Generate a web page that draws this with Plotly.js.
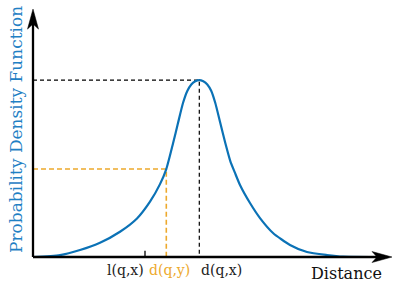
<!DOCTYPE html>
<html>
<head>
<meta charset="utf-8">
<script src="https://cdn.plot.ly/plotly-3.0.1.min.js"></script>
<style>html,body{margin:0;padding:0;background:#fff;}#chart{width:408px;height:291px;}</style>
</head>
<body>
<div id="chart"></div>
<script>
// Curve samples (distance, density)
var distance = [0, 2.7, 4.7, 6.7, 8.7, 10.4, 11.7, 12.7, 13.33, 14.0, 14.5, 15.0, 15.43, 15.83, 16.23, 16.63, 17.03, 17.43, 17.83, 18.23, 18.73, 19.23, 19.73, 20.2, 20.7, 21.7, 22.7, 24.0, 25.7, 27.4, 29.4, 31.0, 33.7];
var density  = [0, 0.011, 0.040, 0.081, 0.143, 0.218, 0.313, 0.412, 0.497, 0.641, 0.757, 0.870, 0.938, 0.975, 0.993, 1.0, 0.993, 0.975, 0.938, 0.870, 0.757, 0.644, 0.542, 0.475, 0.407, 0.305, 0.220, 0.136, 0.068, 0.028, 0.011, 0.002, 0];

// Marked points
var dqxX = 16.63, dqxY = 1.0;     // d(q,x): peak
var dqyX = 13.33, dqyY = 0.497;   // d(q,y)
var lqxX = 11.2;                  // l(q,x)
var tickLabels = ['l(q,x)', 'd(q,y)', 'd(q,x)'];
var xAxisEnd = 35.9, yAxisEnd = 1.401;

var blue = '#0b72b6', orange = '#eda92d', black = '#000';
var serif = 'DejaVu Serif, serif';

var traces = [
  {x: [0, dqxX, dqxX], y: [dqxY, dqxY, 0], mode: 'lines', line: {color: black, width: 1.2, dash: '4px,3px'}, hoverinfo: 'skip'},
  {x: [0, dqyX, dqyX], y: [dqyY, dqyY, 0], mode: 'lines', line: {color: orange, width: 1.6, dash: '5px,3px'}, hoverinfo: 'skip'},
  {x: [lqxX, lqxX], y: [0, 0.035], mode: 'lines', line: {color: black, width: 1.3}, hoverinfo: 'skip'},
  {x: distance, y: density, mode: 'lines', line: {color: blue, width: 2.2, shape: 'spline', smoothing: 0.6}, hoverinfo: 'skip'}
];

var shapes = [
  // axis lines
  {type: 'line', xref: 'x', yref: 'y', x0: 0, y0: 0, x1: xAxisEnd - 1.4, y1: 0, line: {color: black, width: 2.3}},
  {type: 'line', xref: 'x', yref: 'y', x0: 0, y0: 0, x1: 0, y1: yAxisEnd - 0.08, line: {color: black, width: 2.3}},
  // stealth arrowheads (pixel-sized, anchored at the axis ends)
  {type: 'path', xref: 'x', yref: 'y', xsizemode: 'pixel', ysizemode: 'pixel', xanchor: xAxisEnd, yanchor: 0,
   path: 'M0,0 L-20,5.5 L-15,0 L-20,-5.5 Z', fillcolor: black, line: {color: black, width: 0.5}},
  {type: 'path', xref: 'x', yref: 'y', xsizemode: 'pixel', ysizemode: 'pixel', xanchor: 0, yanchor: yAxisEnd,
   path: 'M0,0 L-5.5,-20 L0,-15 L5.5,-20 Z', fillcolor: black, line: {color: black, width: 0.5}}
];

var annotations = [
  {x: lqxX, y: 0, xref: 'x', yref: 'y', text: tickLabels[0], showarrow: false, xanchor: 'right', yanchor: 'middle', xshift: 1, yshift: -13, font: {family: serif, size: 14, color: '#222'}},
  {x: dqyX, y: 0, xref: 'x', yref: 'y', text: tickLabels[1], showarrow: false, xanchor: 'center', yanchor: 'middle', xshift: 3, yshift: -13, font: {family: serif, size: 14, color: orange}},
  {x: dqxX, y: 0, xref: 'x', yref: 'y', text: tickLabels[2], showarrow: false, xanchor: 'left', yanchor: 'middle', xshift: 0, yshift: -13, font: {family: serif, size: 14, color: '#222'}},
  {x: 31.3, y: 0, xref: 'x', yref: 'y', text: 'Distance', showarrow: false, xanchor: 'center', yanchor: 'middle', yshift: -16, font: {family: serif, size: 16, color: '#111'}},
  {x: 0, y: 0.718, xref: 'x', yref: 'y', text: 'Probability Density Function', showarrow: false, textangle: -90, xanchor: 'center', yanchor: 'middle', xshift: -17, font: {family: serif, size: 17, color: '#1f80c4'}}
];

var layout = {
  width: 408, height: 291,
  margin: {l: 20, r: 4, t: 2, b: 20, pad: 0},
  paper_bgcolor: '#fff', plot_bgcolor: '#fff',
  showlegend: false,
  xaxis: {range: [-1.3, 37.1], showgrid: false, zeroline: false, showticklabels: false, showline: false, ticks: '', fixedrange: true},
  yaxis: {range: [-0.079, 1.441], showgrid: false, zeroline: false, showticklabels: false, showline: false, ticks: '', fixedrange: true},
  shapes: shapes,
  annotations: annotations
};

Plotly.newPlot('chart', traces, layout, {staticPlot: true, displayModeBar: false});
</script>
</body>
</html>
